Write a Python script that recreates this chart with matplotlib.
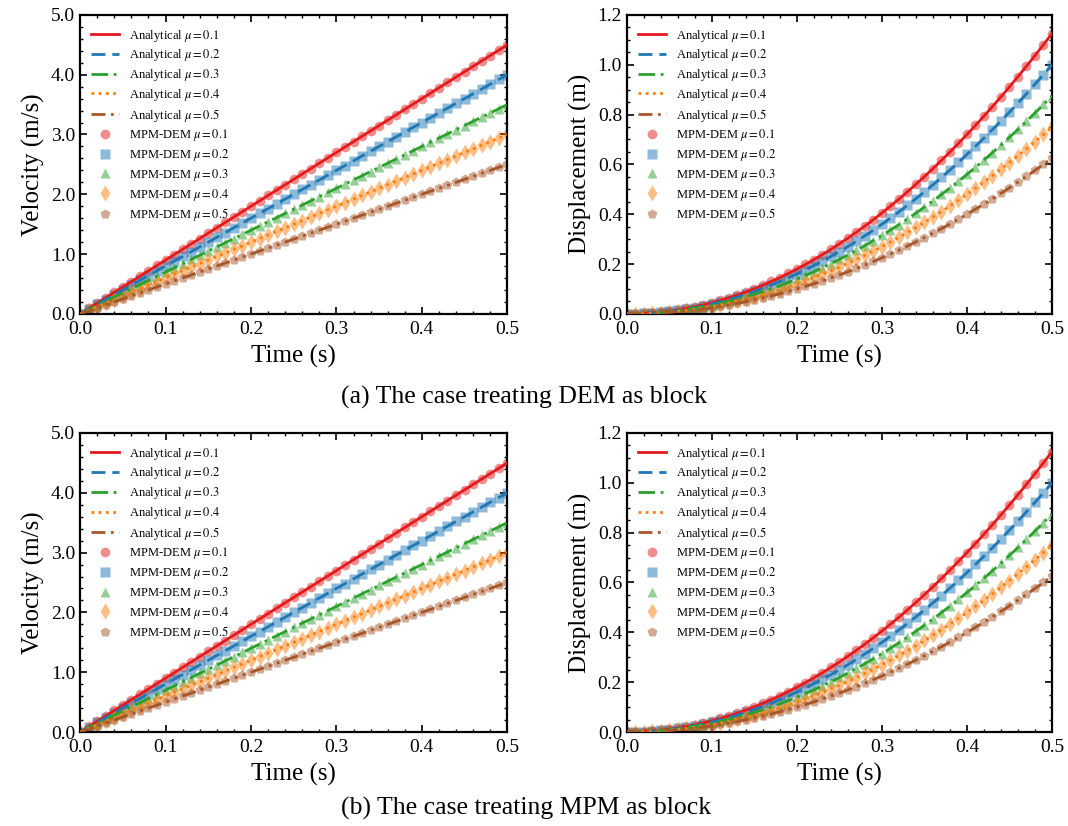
import numpy as np
import matplotlib
matplotlib.use('Agg')
import matplotlib.pyplot as plt
from matplotlib.ticker import AutoMinorLocator, MultipleLocator, FormatStrFormatter

plt.rcParams['font.family'] = ['Liberation Serif', 'DejaVu Serif']
plt.rcParams['mathtext.fontset'] = 'stix'

# friction coefficients
mu = [0.1, 0.2, 0.3, 0.4, 0.5]
# values read at t = 0.5 s
v_end = [4.5, 4.0, 3.5, 3.0, 2.5]
s_end = [1.125, 1.0, 0.875, 0.75, 0.625]
t_end = 0.5
t = np.linspace(0, 0.5, 51)

colors = ['#e41a1c', '#1f77b4', '#2ca02c', '#ff7f0e', '#a65628']
lstyles = ['-', (0, (5, 2.5)), (0, (6, 2, 1, 2)), (0, (1, 1.6)), (0, (5, 2, 1, 2, 1, 2))]
markers = ['o', 's', '^', 'd', 'p']
captions = ['(a) The case treating DEM as block', '(b) The case treating MPM as block']

fig = plt.figure(figsize=(10.68, 8.26), dpi=100)

def style_ax(ax):
    ax.tick_params(which='both', direction='in', top=True, right=True, labelsize=14)
    ax.tick_params(which='major', length=5, width=1.2)
    ax.tick_params(which='minor', length=2.5, width=1.0)
    ax.tick_params(axis='x', pad=5)
    ax.xaxis.set_minor_locator(AutoMinorLocator())
    ax.yaxis.set_minor_locator(AutoMinorLocator())
    for sp in ax.spines.values():
        sp.set_linewidth(1.6)

def draw(ax, ends, power, ylab, ymax, ystep):
    for i in range(5):
        y = ends[i] * (t / t_end) ** power
        ax.plot(t, y, linestyle=lstyles[i], color=colors[i], lw=2,
                label=r'Analytical $\mu=%.1f$' % mu[i], zorder=3)
    for i in range(5):
        y = ends[i] * (t / t_end) ** power
        ax.plot(t, y, linestyle='none', marker=markers[i], color=colors[i],
                ms=7 if markers[i] != 'd' else 8, alpha=0.5, mec='none',
                label=r'MPM-DEM $\mu=%.1f$' % mu[i], zorder=2)
    ax.set_xlim(0, 0.5)
    ax.set_ylim(0, ymax)
    ax.xaxis.set_major_locator(MultipleLocator(0.1))
    ax.yaxis.set_major_locator(MultipleLocator(ystep))
    ax.xaxis.set_major_formatter(FormatStrFormatter('%.1f'))
    ax.yaxis.set_major_formatter(FormatStrFormatter('%.1f'))
    ax.set_xlabel('Time (s)', fontsize=18, labelpad=5)
    ax.set_ylabel(ylab, fontsize=18, labelpad=4)
    style_ax(ax)
    ax.legend(loc='upper left', frameon=False, fontsize=9, handlelength=2.25,
              handletextpad=0.8, labelspacing=0.3, borderaxespad=0.5,
              bbox_to_anchor=(0.0, 0.995))

rows = [(0.620, 0.362, 0.519, 0.491), (0.1138, 0.362, 0.021, 0.493)]
for r, (b, h, cy, cx) in enumerate(rows):
    ax1 = fig.add_axes([0.075, b, 0.400, h])
    draw(ax1, v_end, 1, 'Velocity (m/s)', 5.0, 1.0)
    ax2 = fig.add_axes([0.587, b, 0.398, h])
    draw(ax2, s_end, 2, 'Displacement (m)', 1.2, 0.2)
    fig.text(cx, cy, captions[r], ha='center', va='center', fontsize=18.5)

fig.savefig('out.png', dpi=100)
